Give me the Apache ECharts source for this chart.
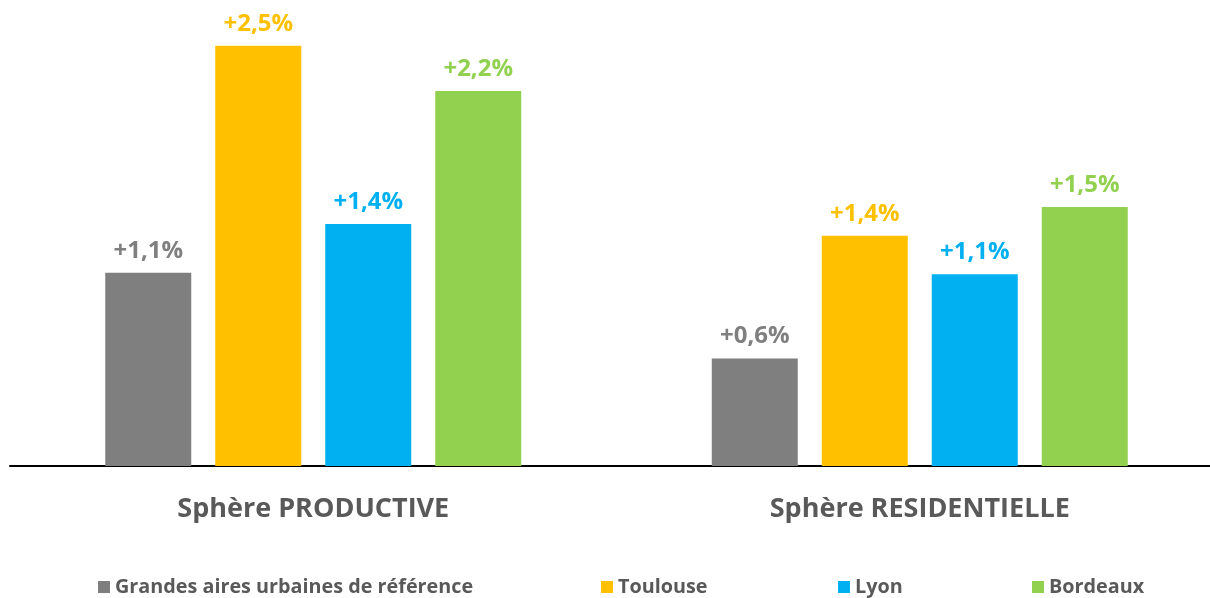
<!DOCTYPE html>
<html>
<head>
<meta charset="utf-8">
<script src="https://cdn.jsdelivr.net/npm/echarts@6/dist/echarts.min.js"></script>
<style>
  html, body { margin: 0; padding: 0; background: #fff; }
  #chart { width: 1210px; height: 598px; }
</style>
</head>
<body>
<div id="chart"></div>
<script>
var categories = ['Sphère PRODUCTIVE', 'Sphère RESIDENTIELLE'];
var seriesNames = ['Grandes aires urbaines de référence', 'Toulouse', 'Lyon', 'Bordeaux'];
var colors = ['#7F7F7F', '#FFC000', '#00B0F0', '#92D050'];
// bar heights
var refValues = [1.15, 0.64];
var toulouseValues = [2.5, 1.37];
var lyonValues = [1.44, 1.14];
var bordeauxValues = [2.23, 1.54];
// labels as printed on the chart
var refLabels = ['+1,1%', '+0,6%'];
var toulouseLabels = ['+2,5%', '+1,4%'];
var lyonLabels = ['+1,4%', '+1,1%'];
var bordeauxLabels = ['+2,2%', '+1,5%'];

var allValues = [refValues, toulouseValues, lyonValues, bordeauxValues];
var allLabels = [refLabels, toulouseLabels, lyonLabels, bordeauxLabels];
var legendLeft = [93, 596, 833, 1027];

var font = '"Open Sans", sans-serif';

var myChart = echarts.init(document.getElementById('chart'));

var series = [];
var legends = [];
for (var i = 0; i < seriesNames.length; i++) {
  (function (i) {
    series.push({
      name: seriesNames[i],
      type: 'bar',
      data: allValues[i],
      barWidth: 86,
      barGap: '27.9%',
      itemStyle: { color: colors[i] },
      label: {
        show: true,
        position: 'top',
        distance: 10,
        color: colors[i],
        fontFamily: font,
        fontWeight: 'bold',
        fontSize: 24,
        formatter: function (p) { return allLabels[i][p.dataIndex]; }
      }
    });
    legends.push({
      data: [seriesNames[i]],
      left: legendLeft[i],
      top: 572,
      itemWidth: 12,
      itemHeight: 12,
      itemGap: 6,
      icon: 'rect',
      selectedMode: false,
      textStyle: {
        color: '#595959',
        fontFamily: font,
        fontWeight: 'bold',
        fontSize: 19.8
      }
    });
  })(i);
}

// 配置项
var option = {
  animation: false,
  legend: legends,
  grid: { left: 10, top: 0, right: -13, bottom: 132, containLabel: false, outerBoundsMode: 'none' },
  xAxis: {
    type: 'category',
    data: categories,
    axisLine: { show: true, lineStyle: { color: '#000', width: 2 } },
    axisTick: { show: false },
    axisLabel: {
      margin: 30,
      color: '#595959',
      fontFamily: font,
      fontWeight: 'bold',
      fontSize: 27
    }
  },
  yAxis: {
    type: 'value',
    min: 0,
    max: 2.772,
    show: false,
    splitLine: { show: false }
  },
  series: series
};

myChart.setOption(option);
</script>
</body>
</html>
